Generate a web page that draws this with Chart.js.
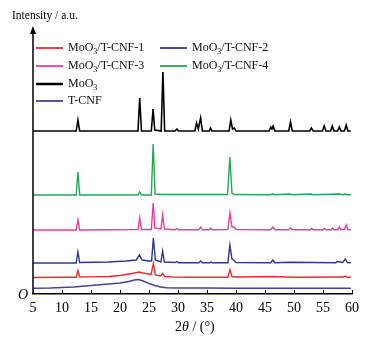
<!DOCTYPE html>
<html>
<head>
<meta charset="utf-8">
<script src="https://cdn.jsdelivr.net/npm/chart.js@4"></script>
<style>
  html, body { margin: 0; padding: 0; background: #fff; }
  #wrap { width: 372px; height: 338px; }
</style>
</head>
<body>
<div id="wrap"><canvas id="xrd" width="372" height="338"></canvas></div>
<script>
// series names, in legend order
const labels = ['MoO3/T-CNF-1', 'MoO3/T-CNF-2', 'MoO3/T-CNF-3', 'MoO3/T-CNF-4', 'MoO3', 'T-CNF'];
const colors = ['#ee2b30', '#2d3894', '#ec3b9e', '#22a852', '#000000', '#4a3f98'];
// vertical stacking offset of each pattern (a.u.)
const offsets = [16.5, 31, 64, 99, 163, 5.5];

const xTicks = [5, 10, 15, 20, 25, 30, 35, 40, 45, 50, 55, 60];

// [2theta, intensity]
const cnf1 = [[5,0],[10,0.2],[12.45,0.3],[12.75,7],[13.05,0.5],[15,0.6],[18,1],[20,2],[21.5,3.5],[22.5,4.5],[23.3,5.5],[24,4.5],[25.35,3],
  [25.75,14],[26.1,2.5],[27,1.5],[27.35,4],[27.7,1],[29,0.5],[33,0.3],[38.6,0.3],[38.95,8],[39.3,1],[40,0.5],[46.3,1],[50,0.3],
  [58.5,0.5],[58.8,1.5],[59.1,0.3],[59.8,0.3]];
const cnf2 = [[5,0],[12.45,0],[12.75,11],[13.05,0.5],[18,1],[21,2],[22.8,3],[23.35,8],[23.8,3],[25,2],[25.45,2],[25.75,25],[26.1,3],
  [27.05,1],[27.35,12],[27.65,1],[29.5,0.5],[29.8,1.5],[30.1,0.3],[33.6,0.3],[33.9,2],[34.2,0.3],[35.5,0.3],[35.7,1],[35.9,0.2],
  [38.6,0.2],[38.95,18],[39.3,4],[39.6,3],[40,0.5],[46,0.3],[46.35,3],[46.7,0.3],[49.3,0.8],[57.2,0.3],[57.5,1.5],[58.4,0.5],
  [58.85,4],[59.2,0.5],[59.8,0.3]];
const cnf3 = [[5,0],[12.45,0],[12.75,10],[13.05,0],[23.1,0.5],[23.4,12],[23.7,0.5],[25.4,0.5],[25.72,27],[26,2],[27.05,1],[27.35,15],
  [27.65,1],[29.5,0.3],[29.8,1.5],[30.1,0.2],[33.6,0.2],[33.9,3],[34.2,0.2],[35.4,0.2],[35.65,2],[35.9,0.2],[38.6,0.5],[38.95,17],
  [39.3,3],[39.65,3],[40,0.5],[46,0.3],[46.35,3],[46.7,0.3],[49.1,0.2],[49.4,2],[49.7,0.2],[52.8,0.2],[53.05,1.5],[53.3,0.2],
  [55,0.3],[55.25,1.5],[55.5,0.3],[56.4,0.3],[56.65,2],[56.9,0.3],[57.55,0.3],[57.8,3],[58.1,0.5],[58.7,0.5],[59,5],[59.3,0.5],[59.8,0.3]];
const cnf4 = [[5,0],[12.45,0],[12.75,23],[13.05,0],[23.1,0],[23.4,3],[23.7,0],[25.4,0],[25.72,51],[26.05,1],[27.3,0.5],[38.55,0.5],
  [38.95,38],[39.3,2],[39.7,0.5],[46,0.3],[46.3,1.2],[46.6,0.3],[49.3,1],[49.6,0.3],[53,1],[53.3,0.3],[57.8,1],[58.5,0.3],
  [58.8,1.2],[59.1,0.3],[59.8,0.3]];
const moo3 = [[5,0],[12.45,0],[12.75,11],[13.05,0],[23.1,0],[23.4,33],[23.7,0],[25.4,0],[25.7,22],[26,1],[27.1,0],[27.4,59],[27.7,0],
  [29.5,0],[29.8,2],[30.1,0],[32.9,0],[33.2,8],[33.5,2],[33.9,13],[34.2,0],[35.4,0],[35.6,3],[35.85,0],[38.8,0],[39.1,11],[39.4,2],
  [39.7,3],[40,0],[45.7,0],[46,4],[46.2,2],[46.4,5],[46.7,0],[49.1,0],[49.4,9],[49.7,0],[52.7,0],[53,3],[53.3,0],[54.9,0],[55.2,5],
  [55.5,0],[56.3,0],[56.6,5],[56.9,0],[57.5,0],[57.8,4],[58.1,0],[58.7,0],[59,6],[59.3,0],[59.8,0]];
const tcnf = [[5,0.3],[8,0.5],[10,1],[12,1.5],[14,2.5],[16,3.5],[18,4.5],[20,5.5],[21.5,7],[22.5,8.5],[23.2,9],[24,7.5],[25,5],
  [26,3],[27,1.5],[28,0.8],[30,0.5],[35,0.5],[40,0.3],[45,0.3],[50,0.2],[55,0.2],[59.8,0.2]];

const series = [cnf1, cnf2, cnf3, cnf4, moo3, tcnf];

const serif = '"Liberation Serif", "DejaVu Serif", serif';

function drawLabel(ctx, text, x, y) {
  // MoO3 with subscript 3
  const parts = text.split('MoO3');
  ctx.font = '12px ' + serif;
  ctx.textBaseline = 'middle';
  let cx = x;
  if (parts.length > 1) {
    ctx.fillText('MoO', cx, y);
    cx += ctx.measureText('MoO').width;
    ctx.font = '8px ' + serif;
    ctx.fillText('3', cx, y + 4);
    cx += ctx.measureText('3').width;
    ctx.font = '12px ' + serif;
    ctx.fillText(parts[1], cx, y);
  } else {
    ctx.fillText(text, cx, y);
  }
}

const decor = {
  id: 'decor',
  afterDraw(chart) {
    const ctx = chart.ctx;
    const area = chart.chartArea;
    const xs = chart.scales.x;
    ctx.save();
    ctx.fillStyle = '#000';
    ctx.strokeStyle = '#000';

    // y axis with arrow
    ctx.lineWidth = 1.5;
    ctx.beginPath();
    ctx.moveTo(area.left, area.bottom);
    ctx.lineTo(area.left, area.top + 4);
    ctx.stroke();
    ctx.beginPath();
    ctx.moveTo(area.left, area.top - 2);
    ctx.lineTo(area.left - 3, area.top + 6);
    ctx.lineTo(area.left + 3, area.top + 6);
    ctx.closePath();
    ctx.fill();

    // inward ticks on x axis
    ctx.lineWidth = 1;
    xTicks.forEach(v => {
      const px = Math.round(xs.getPixelForValue(v)) + 0.5;
      ctx.beginPath();
      ctx.moveTo(px, area.bottom);
      ctx.lineTo(px, area.bottom - 4);
      ctx.stroke();
    });

    // origin and axis titles
    ctx.font = 'italic 14px ' + serif;
    ctx.textBaseline = 'middle';
    ctx.textAlign = 'right';
    ctx.fillText('O', area.left - 5, area.bottom + 1);
    ctx.textAlign = 'left';
    ctx.font = '11.5px ' + serif;
    ctx.fillText('Intensity / a.u.', 12, 16);

    const tx = 175, ty = 327;
    ctx.font = '14px ' + serif;
    ctx.fillText('2', tx, ty);
    let w = ctx.measureText('2').width;
    ctx.font = 'italic 14px ' + serif;
    ctx.fillText('\u03b8', tx + w, ty);
    w += ctx.measureText('\u03b8').width;
    ctx.font = '14px ' + serif;
    ctx.fillText(' / (\u00b0)', tx + w, ty);

    // legend
    const cols = [36, 160];
    const rows = [48, 66, 84, 101];
    chart.data.datasets.forEach((ds, i) => {
      const x = cols[i < 4 ? i % 2 : 0];
      const y = rows[i < 4 ? Math.floor(i / 2) : i - 2];
      ctx.strokeStyle = ds.borderColor;
      ctx.lineWidth = i === 4 ? 2.5 : 1.8;
      ctx.beginPath();
      ctx.moveTo(x, y);
      ctx.lineTo(x + 27, y);
      ctx.stroke();
      ctx.fillStyle = '#111';
      drawLabel(ctx, ds.label, x + 32, y);
    });
    ctx.restore();
  }
};

new Chart(document.getElementById('xrd').getContext('2d'), {
  type: 'line',
  data: {
    datasets: series.map((pts, i) => ({
      label: labels[i],
      data: pts.map(p => ({ x: p[0], y: p[1] + offsets[i] })),
      borderColor: colors[i],
      borderWidth: i === 4 ? 1.6 : 1.4,
      pointRadius: 0,
      fill: false,
      tension: 0
    }))
  },
  options: {
    responsive: false,
    animation: false,
    layout: { padding: { left: 33, top: 28, right: 20, bottom: 0 } },
    plugins: { legend: { display: false }, tooltip: { enabled: false } },
    scales: {
      x: {
        type: 'linear',
        min: 5,
        max: 60,
        afterFit(scale) { scale.height = 44; },
        afterBuildTicks(scale) { scale.ticks = xTicks.map(v => ({ value: v })); },
        grid: { display: false, drawTicks: false },
        border: { display: true, color: '#000', width: 1.5 },
        ticks: { color: '#000', padding: 6, maxRotation: 0, font: { family: serif, size: 14 } }
      },
      y: { display: false, min: 0, max: 266 }
    }
  },
  plugins: [decor]
});
</script>
</body>
</html>
